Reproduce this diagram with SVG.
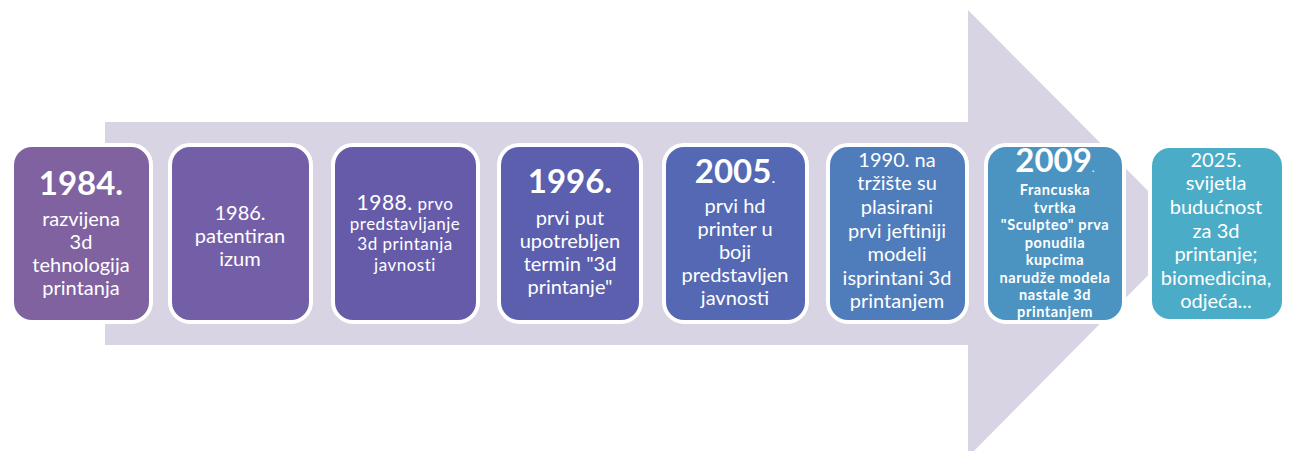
<svg xmlns="http://www.w3.org/2000/svg" width="1290" height="451" viewBox="0 0 1290 451">
<style>
.box{stroke:#ffffff;stroke-width:4}
text{font-family:Lato,"Open Sans","Liberation Sans",sans-serif;fill:#ffffff;text-anchor:middle}
.t{font-size:20px}
.yb{font-size:33px;font-weight:bold}
.s{font-size:14.5px;font-weight:bold;letter-spacing:0.6px}
.m{font-size:17px;letter-spacing:0.5px}
</style>
<rect width="1290" height="451" fill="#ffffff"/>
<g id="arrow">
<polygon points="105,122 968,122 968,10 1190,233 968,457 968,345 105,345" fill="#d8d4e3"/>
</g>
<g id="connectors"></g>
<g id="n1">
<rect class="box" x="12" y="145" width="139" height="177" rx="20" fill="#8062a1"/>
<text class="yb" x="81" y="195">1984.</text>
<text class="t" x="81" y="226">razvijena</text>
<text class="t" x="81" y="249">3d</text>
<text class="t" x="81" y="272">tehnologija</text>
<text class="t" x="81" y="295">printanja</text>
</g>
<g id="n2">
<rect class="box" x="170" y="145" width="141" height="177" rx="20" fill="#735fa7"/>
<text class="t" x="240" y="220">1986.</text>
<text class="t" x="240" y="243">patentiran</text>
<text class="t" x="240" y="266">izum</text>
</g>
<g id="n3">
<rect class="box" x="333" y="145" width="145" height="177" rx="20" fill="#655ba9"/>
<text class="m" x="405" y="210"><tspan font-size="21px">1988.</tspan> prvo</text>
<text class="m" x="405" y="230">predstavljanje</text>
<text class="m" x="405" y="250">3d printanja</text>
<text class="m" x="405" y="271">javnosti</text>
</g>
<g id="n4">
<rect class="box" x="499" y="145" width="142" height="177" rx="20" fill="#5b5fae"/>
<text class="yb" x="570" y="193">1996.</text>
<text class="t" x="570" y="225">prvi put</text>
<text class="t" x="570" y="248">upotrebljen</text>
<text class="t" x="570" y="271">termin "3d</text>
<text class="t" x="570" y="294">printanje"</text>
</g>
<g id="n5">
<rect class="box" x="664" y="145" width="143" height="177" rx="20" fill="#5468b4"/>
<text class="yb" x="735" y="183">2005<tspan font-size="16px" font-weight="normal">.</tspan></text>
<text class="t" x="735" y="213">prvi hd</text>
<text class="t" x="735" y="236">printer u</text>
<text class="t" x="735" y="259">boji</text>
<text class="t" x="735" y="282">predstavljen</text>
<text class="t" x="735" y="305">javnosti</text>
</g>
<g id="n6">
<rect class="box" x="828" y="145" width="139" height="177" rx="20" fill="#4f7cba"/>
<text class="t" x="897" y="167">1990. na</text>
<text class="t" x="897" y="190">tržište su</text>
<text class="t" x="897" y="214">plasirani</text>
<text class="t" x="897" y="238">prvi jeftiniji</text>
<text class="t" x="897" y="261">modeli</text>
<text class="t" x="897" y="285">isprintani 3d</text>
<text class="t" x="897" y="308">printanjem</text>
</g>
<g id="n7">
<rect class="box" x="986" y="145" width="138" height="177" rx="20" fill="#4b94c2"/>
<text class="yb" x="1055" y="172" font-size="29px">2009<tspan font-size="12px" font-weight="normal">.</tspan></text>
<text class="s" x="1055" y="195">Francuska</text>
<text class="s" x="1055" y="213">tvrtka</text>
<text class="s" x="1055" y="230">"Sculpteo" prva</text>
<text class="s" x="1055" y="248">ponudila</text>
<text class="s" x="1055" y="265">kupcima</text>
<text class="s" x="1055" y="283">narudže modela</text>
<text class="s" x="1055" y="300">nastale 3d</text>
<text class="s" x="1055" y="317">printanjem</text>
</g>
<g id="n8">
<rect class="box" x="1150" y="146" width="134" height="175" rx="20" fill="#4aacc7" stroke-width="2"/>
<text class="t" x="1216" y="167">2025.</text>
<text class="t" x="1216" y="190">svijetla</text>
<text class="t" x="1216" y="214">budućnost</text>
<text class="t" x="1216" y="238">za 3d</text>
<text class="t" x="1216" y="261">printanje;</text>
<text class="t" x="1216" y="285">biomedicina,</text>
<text class="t" x="1216" y="308">odjeća...</text>
</g>
</svg>
